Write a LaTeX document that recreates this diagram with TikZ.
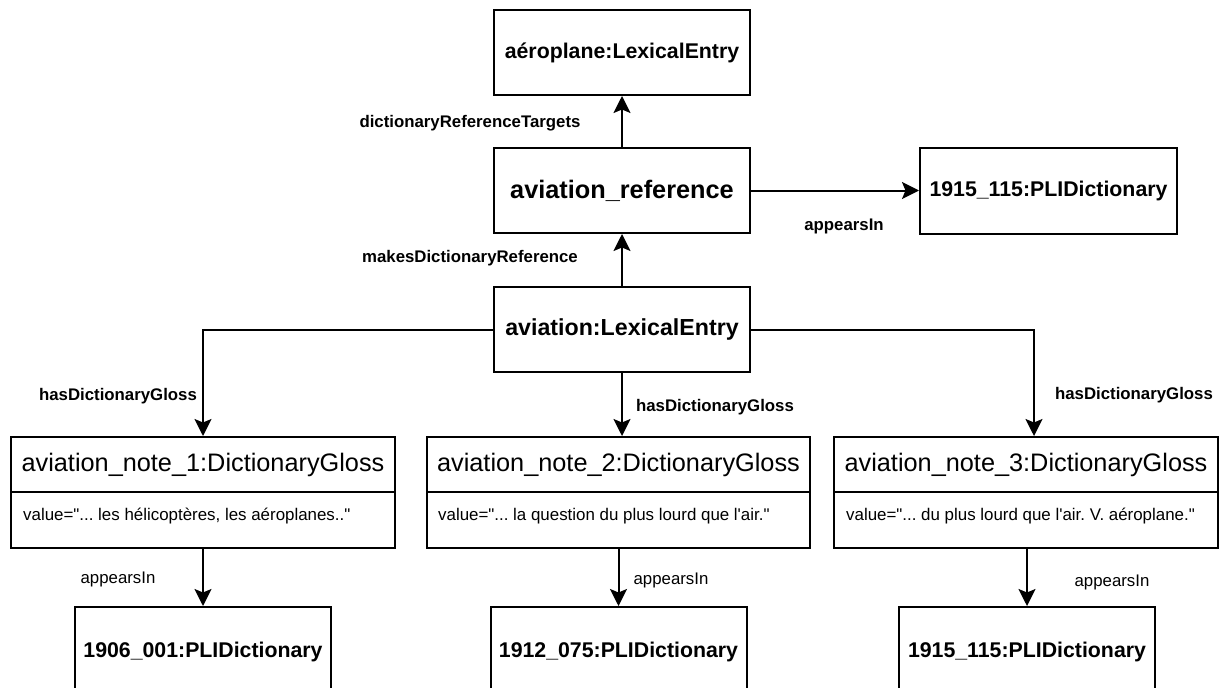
\documentclass[tikz,border=0pt]{standalone}
\usepackage{fontspec}
\setmainfont{Liberation Sans}[Ligatures=TeXOff]
\usetikzlibrary{arrows.meta}
\tikzset{
  box/.style={draw=black, line width=2pt, rectangle, inner sep=0pt, fill=white},
  namebold/.style={font=\fontsize{21.3}{24}\selectfont\bfseries},
  refbold/.style={font=\fontsize{25.3}{29}\selectfont\bfseries},
  namebig/.style={font=\fontsize{25.3}{29}\selectfont},
  lexbold/.style={font=\fontsize{23.2}{27}\selectfont\bfseries},
  lblb/.style={font=\fontsize{16.8}{20}\selectfont\bfseries, inner sep=0pt},
  lblr/.style={font=\fontsize{16.8}{20}\selectfont, inner sep=0pt},
  valtxt/.style={font=\fontsize{16.9}{20}\selectfont, inner sep=0pt, anchor=west},
  arr/.style={line width=2pt, -{Stealth[length=17pt,width=17pt,inset=3.5pt]}},
  divider/.style={line width=2pt}
}
\begin{document}
\frenchspacing
\begin{tikzpicture}[x=1pt,y=-1pt]
\useasboundingbox (0,0) rectangle (1224,688);
\begin{scope}
\clip (0,0) rectangle (1224,688);
% top boxes
\node[box, minimum width=256pt, minimum height=85pt, namebold] (aero) at (622,52.5) {aéroplane:LexicalEntry};
\node[box, minimum width=256pt, minimum height=85pt, refbold] (ref) at (622,190.5) {aviation\_reference};
\node[box, minimum width=257pt, minimum height=86pt, namebold] (d0) at (1048.5,191) {1915\_115:PLIDictionary};
\node[box, minimum width=256pt, minimum height=85pt, lexbold] (lex) at (622,329.5) {aviation:LexicalEntry};
% gloss boxes
\node[box, minimum width=384pt, minimum height=111pt] (g1) at (203,492.5) {};
\node[box, minimum width=383pt, minimum height=111pt] (g2) at (618.5,492.5) {};
\node[box, minimum width=384pt, minimum height=111pt] (g3) at (1026,492.5) {};
\draw[divider] (11,492) -- (395,492);
\draw[divider] (427,492) -- (810,492);
\draw[divider] (834,492) -- (1218,492);
\node[namebig, inner sep=0pt] (g1t) at (203,465) {aviation\_note\_1:DictionaryGloss};
\node[namebig, inner sep=0pt] (g2t) at (618.5,465) {aviation\_note\_2:DictionaryGloss};
\node[namebig, inner sep=0pt] (g3t) at (1026,465) {aviation\_note\_3:DictionaryGloss};
\node[valtxt] (g1v) at (23,516) {value="... les hélicoptères, les aéroplanes.."};
\node[valtxt] (g2v) at (438,516) {value="... la question du plus lourd que l'air."};
\node[valtxt] (g3v) at (846,516) {value="... du plus lourd que l'air. V. aéroplane."};
% bottom dictionaries
\node[box, minimum width=256pt, minimum height=90pt] (d1) at (203,652) {};
\node[box, minimum width=256pt, minimum height=90pt] (d2) at (618.5,652) {};
\node[box, minimum width=256pt, minimum height=90pt] (d3) at (1027,652) {};
\node[namebold, inner sep=0pt] (d1t) at (203,652) {1906\_001:PLIDictionary};
\node[namebold, inner sep=0pt] (d2t) at (618.5,652) {1912\_075:PLIDictionary};
\node[namebold, inner sep=0pt] (d3t) at (1027,652) {1915\_115:PLIDictionary};
% connectors
\draw[arr] (ref.north) -- (aero.south);
\draw[arr] (lex.north) -- (ref.south);
\draw[arr] (ref.east) -- (ref.east -| d0.west);
\draw[arr] (lex.west) -| (g1.north);
\draw[arr] (lex.south) -- (lex.south |- g2.north);
\draw[arr] (lex.east) -| ([xshift=8pt]g3.north);
\draw[arr] (g1.south) -- (d1.north);
\draw[arr] (g2.south) -- (d2.north);
\draw[arr] (d3.north |- g3.south) -- (d3.north);
% labels
\node[lblb] (l1) at (470,123) {dictionaryReferenceTargets};
\node[lblb] (l2) at (470,258) {makesDictionaryReference};
\node[lblb] (l3) at (844,226) {appearsIn};
\node[lblb] (l4) at (118,396) {hasDictionaryGloss};
\node[lblb] (l5) at (715,407) {hasDictionaryGloss};
\node[lblb] (l6) at (1134,395) {hasDictionaryGloss};
\node[lblr] (l7) at (118,579) {appearsIn};
\node[lblr] (l8) at (671,580) {appearsIn};
\node[lblr] (l9) at (1112,582) {appearsIn};
\end{scope}
\end{tikzpicture}
\end{document}
